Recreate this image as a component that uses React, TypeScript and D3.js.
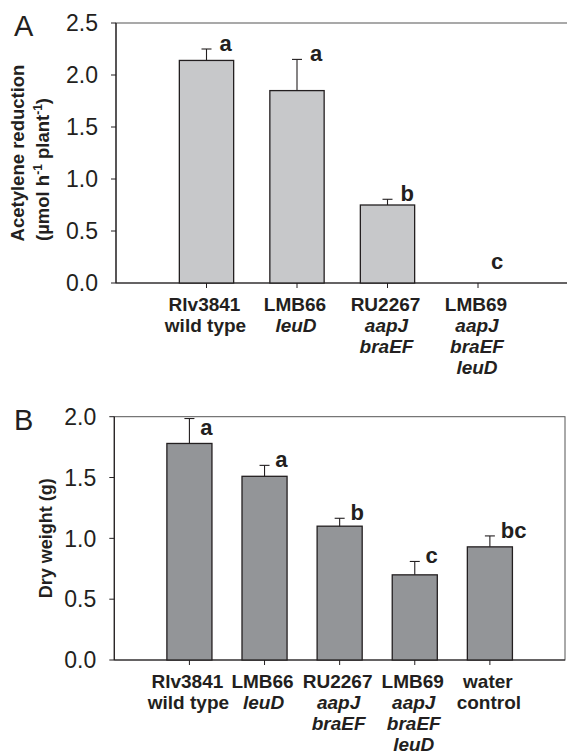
import * as d3 from 'd3';

// Panel A: acetylene reduction
const strainsA = ['Rlv3841', 'LMB66', 'RU2267', 'LMB69'];
const genotypesA = [['wild type'], ['leuD'], ['aapJ', 'braEF'], ['aapJ', 'braEF', 'leuD']];
const meansA = [2.14, 1.85, 0.75, 0];
const errorsA = [0.11, 0.3, 0.055, 0];
const lettersA = ['a', 'a', 'b', 'c'];
const ticksA = [0, 0.5, 1.0, 1.5, 2.0, 2.5];

// Panel B: dry weight
const strainsB = ['Rlv3841', 'LMB66', 'RU2267', 'LMB69', 'water'];
const genotypesB = [['wild type'], ['leuD'], ['aapJ', 'braEF'], ['aapJ', 'braEF', 'leuD'], ['control']];
const meansB = [1.78, 1.51, 1.1, 0.7, 0.93];
const errorsB = [0.205, 0.09, 0.065, 0.11, 0.09];
const lettersB = ['a', 'a', 'b', 'c', 'bc'];
const ticksB = [0, 0.5, 1.0, 1.5, 2.0];

const plainLines = ['wild type', 'control'];
const FONT = '"Liberation Sans", Arial, Helvetica, sans-serif';
const INK = '#231f20';

interface PanelProps {
  tag: string;
  strains: string[];
  genotypes: string[][];
  means: number[];
  errors: number[];
  letters: string[];
  ticks: number[];
  left: number;
  right: number;
  top: number;
  bottom: number;
  fill: string;
  title: React.ReactNode;
}

function Panel(p: PanelProps) {
  const x = d3.scalePoint<string>().domain(p.strains).range([p.left, p.right]).padding(1);
  const y = d3.scaleLinear().domain([0, p.ticks[p.ticks.length - 1]]).range([p.bottom, p.top]);
  const bw = x.step() * 0.6;
  const fmt = d3.format('.1f');

  return (
    <g fontFamily={FONT} fill={INK}>
      <text x={14} y={p.top + 13} fontSize={29}>{p.tag}</text>

      {/* frame */}
      <rect x={p.left} y={p.top} width={p.right - p.left} height={p.bottom - p.top}
        fill="none" stroke="#555" strokeWidth={1} />
      <line x1={p.left} x2={p.left} y1={p.top} y2={p.bottom} stroke={INK} strokeWidth={1.2} />
      <line x1={p.left} x2={p.right} y1={p.bottom} y2={p.bottom} stroke={INK} strokeWidth={1.2} />

      {/* y axis */}
      {p.ticks.map(t => (
        <g key={t}>
          <line x1={p.left - 5} x2={p.left} y1={y(t)} y2={y(t)} stroke={INK} strokeWidth={1} />
          <text x={p.left - 18} y={y(t)} dy="0.36em" textAnchor="end" fontSize={23}>{fmt(t)}</text>
        </g>
      ))}
      {p.title}

      {/* bars, error bars, letters, category labels */}
      {p.strains.map((s, i) => {
        const cx = x(s)!;
        const top = y(p.means[i] + p.errors[i]);
        // letter sits beside the error cap, kept clear of the frame
        const ly = Math.max(Math.min(top + 2, p.bottom - 14), p.top + 18);
        return (
          <g key={s}>
            <line x1={cx} x2={cx} y1={p.bottom} y2={p.bottom + 5} stroke={INK} strokeWidth={1} />
            {p.means[i] > 0 && (
              <rect x={cx - bw / 2} y={y(p.means[i])} width={bw} height={p.bottom - y(p.means[i])}
                fill={p.fill} stroke={INK} strokeWidth={1.3} />
            )}
            {p.errors[i] > 0 && (
              <g stroke={INK} strokeWidth={1.1}>
                <line x1={cx} x2={cx} y1={y(p.means[i])} y2={top} />
                <line x1={cx - 5} x2={cx + 5} y1={top} y2={top} />
              </g>
            )}
            <text x={cx + bw * 0.24} y={ly} fontSize={22} fontWeight="bold">{p.letters[i]}</text>
            <text textAnchor="middle" fontSize={19} fontWeight="bold">
              <tspan x={cx - 2} y={p.bottom + 28}>{s}</tspan>
              {p.genotypes[i].map((g, j) => (
                <tspan key={j} x={cx - 1} y={p.bottom + 28 + 21 * (j + 1)}
                  fontStyle={plainLines.includes(g) ? 'normal' : 'italic'}>{g}</tspan>
              ))}
            </text>
          </g>
        );
      })}
    </g>
  );
}

export default function App() {
  const midA = (23 + 283) / 2;
  const midB = (416.7 + 660) / 2;
  return (
    <div>
      <style>{`body{margin:0}`}</style>
      <svg width={567} height={756} style={{ display: 'block', background: '#fff' }}>
        <Panel tag="A" strains={strainsA} genotypes={genotypesA} means={meansA} errors={errorsA}
          letters={lettersA} ticks={ticksA} left={116} right={568.5} top={23} bottom={283}
          fill="#c7c8ca"
          title={
            <g fontFamily={FONT} fontWeight="bold" fill={INK}>
              <text transform={`translate(24,${midA}) rotate(-90)`} textAnchor="middle" fontSize={18.5}>
                Acetylene reduction
              </text>
              <text transform={`translate(49,${midA + 88}) rotate(-90)`} textAnchor="start" fontSize={18.5}>
                (µmol h<tspan fontSize={12} dy={-7}>-1</tspan>
                <tspan dy={7}> plant</tspan>
                <tspan fontSize={12} dy={-7}>-1</tspan>
                <tspan dy={7}>)</tspan>
              </text>
            </g>
          } />
        <Panel tag="B" strains={strainsB} genotypes={genotypesB} means={meansB} errors={errorsB}
          letters={lettersB} ticks={ticksB} left={114.3} right={565} top={416.7} bottom={660}
          fill="#939598"
          title={
            <text transform={`translate(52,${midB}) rotate(-90)`} textAnchor="middle"
              fontFamily={FONT} fontWeight="bold" fontSize={18} fill={INK}>
              Dry weight (g)
            </text>
          } />
      </svg>
    </div>
  );
}
